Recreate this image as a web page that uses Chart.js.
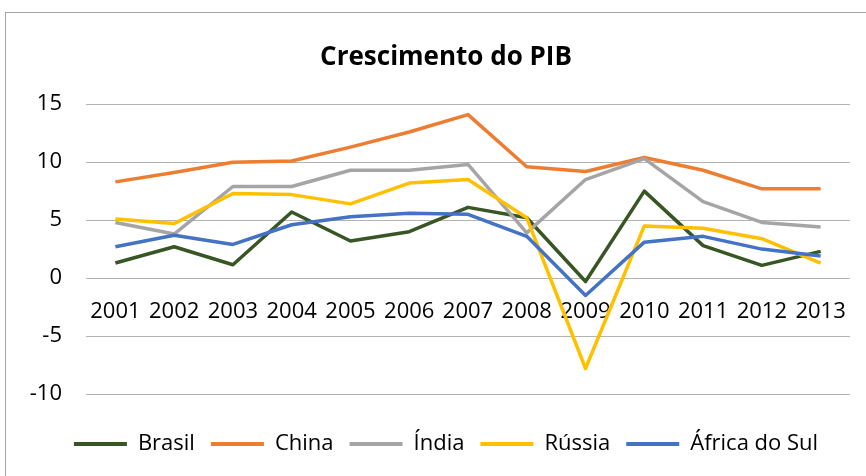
<!DOCTYPE html>
<html>
<head>
<meta charset="utf-8">
<script src="https://cdn.jsdelivr.net/npm/chart.js@4/dist/chart.umd.min.js"></script>
<style>
  html, body { margin: 0; padding: 0; background: #fff; overflow: hidden; }
  #box { position: absolute; left: 5px; top: 12px; width: 880px; height: 470px; border: 1px solid #a6a6a6; }
</style>
</head>
<body>
<div id="box"><canvas id="pibChart"></canvas></div>
<script>
const years = ["2001", "2002", "2003", "2004", "2005", "2006", "2007", "2008", "2009", "2010", "2011", "2012", "2013"];
const brasil = [1.3, 2.7, 1.15, 5.7, 3.2, 4.0, 6.1, 5.2, -0.3, 7.5, 2.8, 1.1, 2.3];
const china = [8.3, 9.1, 10.0, 10.1, 11.3, 12.6, 14.1, 9.6, 9.2, 10.4, 9.3, 7.7, 7.7];
const india = [4.8, 3.8, 7.9, 7.9, 9.3, 9.3, 9.8, 3.9, 8.5, 10.3, 6.6, 4.8, 4.4];
const russia = [5.1, 4.7, 7.3, 7.2, 6.4, 8.2, 8.5, 5.2, -7.8, 4.5, 4.3, 3.4, 1.3];
const africa = [2.7, 3.7, 2.9, 4.6, 5.3, 5.6, 5.5, 3.6, -1.5, 3.1, 3.6, 2.5, 1.9];
const yMin = -10, yMax = 15, yStep = 5;

const font = "'Open Sans', sans-serif";

function line(label, data, color, order) {
    return {
        label: label,
        data: data,
        borderColor: color,
        backgroundColor: color,
        borderWidth: 3.5,
        borderJoinStyle: 'round',
        pointRadius: 0,
        tension: 0,
        fill: false,
        order: order
    };
}

document.addEventListener("DOMContentLoaded", () => {
    const chart = new Chart(document.getElementById("pibChart"), {
        type: 'line',
        data: {
            labels: years,
            datasets: [
                line("Brasil", brasil, "#375623", 5),
                line("China", china, "#ED7D31", 4),
                line("Índia", india, "#A5A5A5", 3),
                line("Rússia", russia, "#FFC000", 2),
                line("África do Sul", africa, "#4472C4", 1)
            ]
        },
        options: {
            responsive: true,
            maintainAspectRatio: false,
            animation: false,
            layout: { padding: { left: 0, right: 0, top: 0, bottom: 18 } },
            plugins: {
                tooltip: { enabled: false },
                title: {
                    display: true,
                    text: "Crescimento do PIB",
                    color: "#000",
                    font: { family: font, size: 26, weight: 'bold' },
                    padding: { top: 29, bottom: 31 }
                },
                legend: {
                    position: 'bottom',
                    labels: {
                        color: "#000",
                        font: { family: font, size: 22 },
                        boxWidth: 53,
                        boxHeight: 4,
                        padding: 16,
                        sort: (a, b) => a.datasetIndex - b.datasetIndex,
                        generateLabels: (c) => Chart.defaults.plugins.legend.labels.generateLabels(c).map(item => {
                            item.fillStyle = item.strokeStyle;
                            item.lineWidth = 0;
                            return item;
                        })
                    }
                }
            },
            scales: {
                x: {
                    position: { y: 0 },
                    offset: true,
                    grid: { display: false, drawTicks: false },
                    border: { display: false },
                    ticks: {
                        color: "#000",
                        font: { family: font, size: 22 },
                        padding: 20,
                        maxRotation: 0,
                        autoSkip: false
                    }
                },
                y: {
                    min: yMin,
                    max: yMax,
                    grid: { color: "#b3b3b3", lineWidth: 1, drawTicks: false },
                    border: { display: false },
                    ticks: {
                        stepSize: yStep,
                        color: "#000",
                        font: { family: font, size: 22 },
                        padding: 24
                    },
                    afterFit: (s) => { s.width = 80; }
                },
                xPad: {
                    type: 'category',
                    position: 'bottom',
                    grid: { display: false },
                    border: { display: false },
                    ticks: { display: false },
                    afterFit: (s) => { s.height = 23; }
                },
                yPad: {
                    type: 'linear',
                    position: 'right',
                    grid: { display: false },
                    border: { display: false },
                    ticks: { display: false },
                    afterFit: (s) => { s.width = 36; }
                }
            }
        }
    });
});
</script>
</body>
</html>
